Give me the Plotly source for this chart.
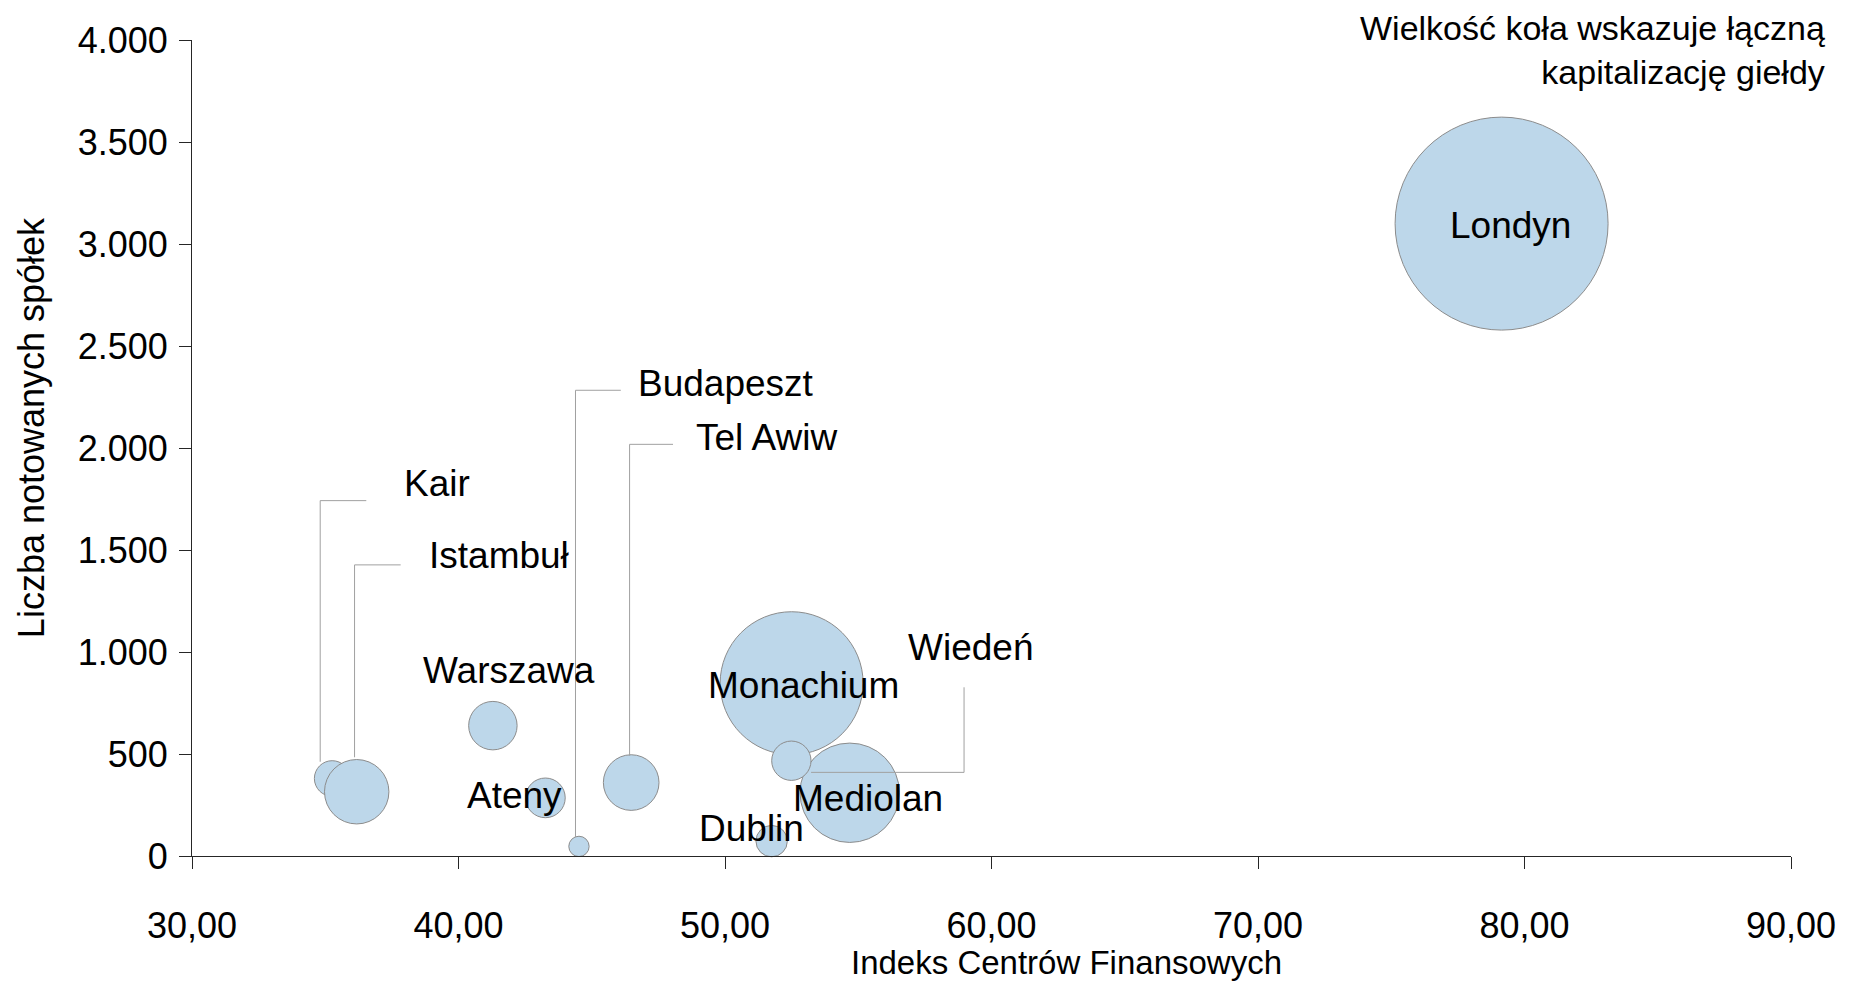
import plotly.graph_objects as go

# ---------------- data ----------------
cities = ["Kair", "Istambuł", "Warszawa", "Ateny", "Budapeszt", "Tel Awiw",
          "Dublin", "Monachium", "Mediolan", "Wiedeń", "Londyn"]
index_cf = [35.26, 36.18, 41.29, 43.26, 44.52, 46.48, 51.75, 52.50, 54.68, 52.49, 79.14]
companies = [380, 315, 639, 285, 47, 360, 73, 847, 310, 467, 3100]
market_cap = [95, 311, 176, 118, 31, 232, 74, 1532, 740, 116, 3400]

x_ticks = [30, 40, 50, 60, 70, 80, 90]
y_ticks = [0, 500, 1000, 1500, 2000, 2500, 3000, 3500, 4000]

x_title = "Indeks Centrów Finansowych"
y_title = "Liczba notowanych spółek"
note = "Wielkość koła wskazuje łączną<br>kapitalizację giełdy"

# label placement (data coords) and leader-line paths (data coords)
label_pos = {
    "Kair": (39.19, 1828), "Istambuł": (41.52, 1471), "Warszawa": (41.89, 909),
    "Ateny": (42.11, 299), "Budapeszt": (50.03, 2314), "Tel Awiw": (51.56, 2051),
    "Dublin": (51.0, 133), "Monachium": (52.96, 834), "Mediolan": (55.38, 280),
    "Wiedeń": (59.20, 1022), "Londyn": (79.47, 3089),
}
leaders = [
    [(36.54, 1742), (34.81, 1742), (34.81, 462)],
    [(37.83, 1427), (36.10, 1427), (36.10, 484)],
    [(46.09, 2283), (44.39, 2283), (44.39, 92)],
    [(48.05, 2018), (46.42, 2018), (46.42, 492)],
    [(58.97, 827), (58.97, 410), (53.23, 410)],
]

FONT = "Arial, 'Liberation Sans', sans-serif"
AXIS_COLOR = "#262626"
FILL = "#BDD7EA"
EDGE = "#8C8C8C"
MAX_DIAM = 213

fig = go.Figure()
fig.add_trace(go.Scatter(
    x=index_cf, y=companies, mode="markers",
    marker=dict(size=market_cap, sizemode="area",
                sizeref=2 * max(market_cap) / MAX_DIAM ** 2,
                color=FILL, opacity=1,
                line=dict(color=EDGE, width=1)),
    text=cities, hoverinfo="text", showlegend=False, cliponaxis=False,
))

shapes = []
for path in leaders:
    d = "M " + " L ".join(f"{px},{py}" for px, py in path)
    shapes.append(dict(type="path", xref="x", yref="y", path=d,
                       line=dict(color="#A0A0A0", width=1), layer="above"))

annotations = []
for name in cities:
    lx, ly = label_pos[name]
    annotations.append(dict(x=lx, y=ly, xref="x", yref="y", text=name,
                            showarrow=False, xanchor="center", yanchor="middle",
                            font=dict(family=FONT, size=37, color="black")))
annotations.append(dict(x=1.0225, y=0.9874, xref="paper", yref="paper", text=note,
                        showarrow=False, xanchor="right", yanchor="middle",
                        align="right", font=dict(family=FONT, size=34, color="black")))
annotations.append(dict(x=0.547, y=-0.1305, xref="paper", yref="paper", text=x_title,
                        showarrow=False, xanchor="center", yanchor="middle",
                        font=dict(family=FONT, size=33, color="black")))
annotations.append(dict(x=-0.1003, y=0.5251, xref="paper", yref="paper", text=y_title,
                        showarrow=False, xanchor="center", yanchor="middle", textangle=-90,
                        font=dict(family=FONT, size=36, color="black")))

fig.update_layout(
    width=1852, height=981,
    margin=dict(l=192, r=61, t=40, b=125, autoexpand=False),
    paper_bgcolor="white", plot_bgcolor="white",
    separators=",.",
    shapes=shapes, annotations=annotations,
    font=dict(family=FONT, color="black"),
)
fig.update_xaxes(
    range=[30, 90], tickvals=x_ticks, tickformat=".2f",
    showgrid=False, zeroline=False, showline=True, linecolor=AXIS_COLOR, linewidth=1,
    ticks="outside", ticklen=12, tickcolor=AXIS_COLOR, tickwidth=1,
    tickfont=dict(family=FONT, size=36, color="black"), ticklabelstandoff=26,
)
fig.update_yaxes(
    range=[0, 4000], tickvals=y_ticks, tickformat=",d",
    showgrid=False, zeroline=False, showline=True, linecolor=AXIS_COLOR, linewidth=1,
    ticks="outside", ticklen=12, tickcolor=AXIS_COLOR, tickwidth=1,
    tickfont=dict(family=FONT, size=36, color="black"), ticklabelstandoff=4,
)

fig.write_html("out.html", config={"displayModeBar": False},
               post_script="document.body.style.margin='0';document.body.style.overflow='hidden';")
